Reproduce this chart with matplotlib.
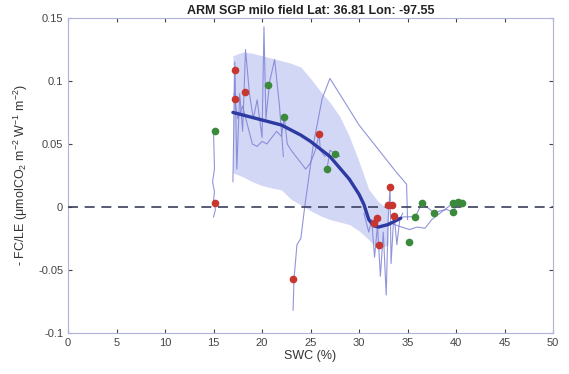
import matplotlib
matplotlib.use("Agg")
import matplotlib.pyplot as plt
import numpy as np

plt.rcParams['font.family'] = ['Liberation Sans', 'DejaVu Sans']
plt.rcParams['mathtext.default'] = 'regular'

# fitted curve (thick line)
fit_x = [17, 18, 19, 20, 21, 22, 23, 24, 25, 26, 27, 28, 29, 30, 30.5, 31, 31.5, 32, 33, 34.3]
fit_y = [0.075, 0.073, 0.071, 0.069, 0.067, 0.065, 0.061, 0.057, 0.052, 0.046,
         0.040, 0.031, 0.022, 0.010, 0.002, -0.010, -0.015, -0.016, -0.014, -0.009]

# spread band around the fit
band_x = [17, 18, 19, 20, 21, 22, 23, 24, 25, 26, 27, 28, 29, 30, 31, 32, 33]
band_hi = [0.120, 0.123, 0.122, 0.12, 0.118, 0.116, 0.114, 0.111, 0.102, 0.092,
           0.083, 0.072, 0.056, 0.036, 0.014, 0.004, -0.002]
band_lo = [0.027, 0.024, 0.02, 0.017, 0.015, 0.0135, 0.006, 0.0016, -0.003, -0.007,
           -0.010, -0.012, -0.014, -0.019, -0.026, -0.034, -0.030]

# thin daily traces
trace_a_x = [15.0, 15.1, 14.9, 15.1, 15.0, 15.2, 15.0]
trace_a_y = [0.060, 0.030, 0.020, 0.012, 0.005, -0.002, -0.008]
trace_b_x = [17.0, 17.2, 17.4, 17.7, 18.0, 18.3, 18.7, 19.1, 19.5, 20.0, 20.2, 20.4,
             20.8, 21.3, 21.8, 22.2]
trace_b_y = [0.020, 0.115, 0.030, 0.090, 0.060, 0.125, 0.090, 0.070, 0.085, 0.055,
             0.143, 0.070, 0.100, 0.117, 0.080, 0.040]
trace_c_x = [17.1, 17.5, 18.0, 18.5, 19.0, 19.5, 20.0, 20.5, 21.0, 21.5, 22.0, 22.3,
             22.6, 23.0, 23.5, 24.0, 24.5, 25.0, 25.5, 25.9, 26.0, 26.5]
trace_c_y = [0.090, 0.070, 0.080, 0.065, 0.050, 0.048, 0.052, 0.050, 0.055, 0.060,
             0.056, 0.071, 0.050, 0.045, 0.040, 0.035, 0.030, 0.035, 0.045, 0.058,
             0.045, 0.040]
trace_d_x = [23.2, 23.3, 23.6, 24.0, 24.4, 25.3, 26.2, 27.0, 30.0, 33.9, 34.9, 35.0]
trace_d_y = [-0.082, -0.057, -0.030, -0.025, 0.000, 0.050, 0.086, 0.102, 0.065,
             0.027, 0.018, -0.010]
trace_e_x = [30.5, 31.0, 31.3, 31.6, 31.9, 32.2, 32.5, 32.8, 33.0, 33.2, 33.3, 33.6,
             33.9, 34.2, 34.5]
trace_e_y = [-0.005, -0.020, -0.010, -0.040, -0.015, -0.055, -0.020, -0.070, -0.010,
             0.016, -0.045, -0.005, -0.030, -0.010, -0.005]
trace_f_x = [33.5, 34.5, 35.8, 36.5, 37.7, 39.0, 39.7, 40.2, 40.6]
trace_f_y = [-0.010, -0.008, -0.0077, 0.003, -0.0045, -0.002, -0.004, 0.0037, 0.0034]
trace_g_x = [33.0, 34.0, 35.2, 36.0, 36.8, 37.5, 39.7]
trace_g_y = [-0.012, -0.015, -0.018, -0.016, -0.017, -0.010, 0.003]
trace_h_x = [26.7, 27.0, 27.6, 28.0]
trace_h_y = [0.030, 0.045, 0.042, 0.040]

# highlighted points
red_x = [17.2, 17.2, 18.2, 15.2, 25.9, 23.2, 33.2, 33.0, 33.4, 31.9, 31.5, 33.6, 32.1]
red_y = [0.109, 0.086, 0.0915, 0.003, 0.058, -0.057, 0.016, 0.0016, 0.0016, -0.009,
         -0.0124, -0.007, -0.030]
green_x = [15.2, 20.6, 22.3, 27.5, 26.7, 35.8, 36.5, 37.7, 39.7, 39.7, 40.2, 40.6, 35.2]
green_y = [0.060, 0.097, 0.071, 0.042, 0.030, -0.0077, 0.003, -0.0045, -0.004, 0.003,
           0.0037, 0.0034, -0.028]

fig = plt.figure(figsize=(5.69, 3.74), dpi=100)
ax = fig.add_axes([0.1195, 0.110, 0.8525, 0.842])

ax.fill_between(band_x, band_lo, band_hi, color='#c9cdf4', alpha=0.8, lw=0, zorder=1)

thin = dict(color='#7e82d4', lw=0.8, alpha=0.85, zorder=2)
for tx, ty in [(trace_a_x, trace_a_y), (trace_b_x, trace_b_y), (trace_c_x, trace_c_y),
               (trace_d_x, trace_d_y), (trace_e_x, trace_e_y), (trace_f_x, trace_f_y),
               (trace_g_x, trace_g_y), (trace_h_x, trace_h_y)]:
    ax.plot(tx, ty, **thin)

ax.axhline(0, color='#3b3f5e', lw=1.2, ls=(0, (6, 4)), zorder=3)
ax.plot(fit_x, fit_y, color='#2c3aa2', lw=2.4, zorder=4, solid_capstyle='round')

ax.plot(red_x, red_y, 'o', color='#c8372f', ms=4.5, zorder=5)
ax.plot(green_x, green_y, 'o', color='#3b8a3b', ms=4.5, zorder=5)

ax.set_xlim(0, 50)
ax.set_ylim(-0.1, 0.15)
ax.set_xticks(np.arange(0, 51, 5))
ax.set_yticks([-0.1, -0.05, 0, 0.05, 0.1, 0.15])
ax.set_yticklabels(['-0.1', '-0.05', '0', '0.05', '0.1', '0.15'])
ax.tick_params(direction='in', length=3, labelsize=8, colors='#444444',
               top=True, right=True)
for s in ax.spines.values():
    s.set_color('#b0b4d8')
    s.set_linewidth(0.8)

ax.set_xlabel('SWC (%)', fontsize=9, color='#333333', labelpad=2)
ax.set_ylabel('- FC/LE ($\\mu$molCO$_2$ m$^{-2}$ W$^{-1}$ m$^{-2}$)', fontsize=9,
              color='#333333', labelpad=6)
ax.set_title('ARM SGP milo field Lat: 36.81 Lon: -97.55', fontsize=9,
             fontweight='bold', color='#222222', pad=3)

fig.savefig('out.png', dpi=100)
